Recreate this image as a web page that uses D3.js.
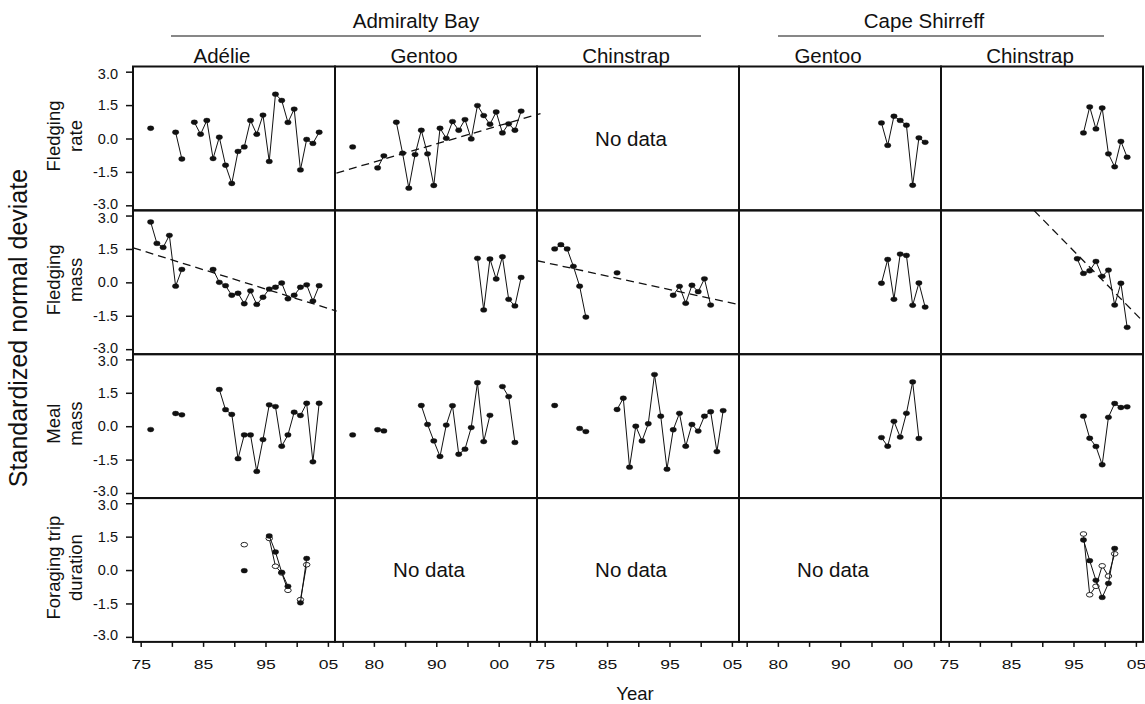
<!DOCTYPE html>
<html>
<head>
<meta charset="utf-8">
<script src="https://cdn.jsdelivr.net/npm/d3@7"></script>
<style>
  body { margin: 0; background: #fff; }
  svg { font-family: "Liberation Sans", Arial, Helvetica, sans-serif; }
</style>
</head>
<body>
<script>
// ---- data (standardized normal deviates by breeding season) ----
var sites = ['Admiralty Bay', 'Cape Shirreff'];
var species = ['Adélie', 'Gentoo', 'Chinstrap', 'Gentoo', 'Chinstrap'];
var variables = [['Fledging', 'rate'], ['Fledging', 'mass'], ['Meal', 'mass'], ['Foraging trip', 'duration']];
var yTicks = [-3, -1.5, 0, 1.5, 3];
var xTicks = [1975, 1980, 1985, 1990, 1995, 2000, 2005];
var xLabelsOdd = [1975, 1985, 1995, 2005];
var xLabelsEven = [1980, 1990, 2000];

// Admiralty Bay, Adélie
var abAdelieRate = [[1976,0.46],[1980,0.28],[1981,-0.92],[1983,0.73],[1984,0.19],[1985,0.81],[1986,-0.90],[1987,0.06],[1988,-1.20],[1989,-2.02],[1990,-0.58],[1991,-0.38],[1992,0.81],[1993,0.19],[1994,1.05],[1995,-1.03],[1996,1.99],[1997,1.71],[1998,0.72],[1999,1.32],[2000,-1.41],[2001,-0.04],[2002,-0.22],[2003,0.28]];
var abAdelieMass = [[1976,2.71],[1977,1.75],[1978,1.57],[1979,2.11],[1980,-0.17],[1981,0.58],[1986,0.58],[1987,0.00],[1988,-0.15],[1989,-0.58],[1990,-0.49],[1991,-0.96],[1992,-0.38],[1993,-0.99],[1994,-0.67],[1995,-0.30],[1996,-0.22],[1997,-0.03],[1998,-0.74],[1999,-0.58],[2000,-0.22],[2001,-0.11],[2002,-0.84],[2003,-0.15]];
var abAdelieMeal = [[1976,-0.15],[1980,0.57],[1981,0.51],[1987,1.65],[1988,0.74],[1989,0.53],[1990,-1.46],[1991,-0.39],[1992,-0.39],[1993,-2.03],[1994,-0.60],[1995,0.96],[1996,0.88],[1997,-0.90],[1998,-0.39],[1999,0.63],[2000,0.48],[2001,1.03],[2002,-1.60],[2003,1.03]];
var abAdelieTrip = [[1991,-0.03],[1995,1.53],[1996,0.81],[1997,-0.10],[1998,-0.73],[2000,-1.47],[2001,0.52]];
var abAdelieTripOpen = [[1991,1.14],[1995,1.42],[1996,0.17],[1997,-0.13],[1998,-0.91],[2000,-1.33],[2001,0.24]];
var abAdelieMassTrend = [[1973.2,1.55],[2005.8,-1.29]];

// Admiralty Bay, Gentoo
var abGentooRate = [[1976,-0.38],[1980,-1.32],[1981,-0.78],[1983,0.73],[1984,-0.66],[1985,-2.23],[1986,-0.72],[1987,0.37],[1988,-0.69],[1989,-2.11],[1990,0.46],[1991,0.01],[1992,0.76],[1993,0.37],[1994,0.85],[1995,-0.02],[1996,1.48],[1997,1.03],[1998,0.64],[1999,1.19],[2000,0.25],[2001,0.66],[2002,0.37],[2003,1.23]];
var abGentooMass = [[1996,1.08],[1997,-1.24],[1998,1.05],[1999,0.15],[2000,1.15],[2001,-0.76],[2002,-1.06],[2003,0.22]];
var abGentooMeal = [[1976,-0.39],[1980,-0.16],[1981,-0.21],[1987,0.93],[1988,0.08],[1989,-0.66],[1990,-1.36],[1991,0.05],[1992,0.92],[1993,-1.26],[1994,-1.03],[1995,-0.06],[1996,1.95],[1997,-0.69],[1998,0.49],[2000,1.78],[2001,1.33],[2002,-0.73]];
var abGentooRateTrend = [[1973.4,-1.55],[2006.1,1.12]];

// Admiralty Bay, Chinstrap
var abChinMass = [[1976,1.50],[1977,1.69],[1978,1.50],[1979,0.72],[1980,-0.17],[1981,-1.56],[1986,0.43],[1995,-0.58],[1996,-0.18],[1997,-0.94],[1998,-0.13],[1999,-0.42],[2000,0.16],[2001,-1.02]];
var abChinMeal = [[1976,0.93],[1980,-0.10],[1981,-0.24],[1986,0.75],[1987,1.26],[1988,-1.84],[1989,0.00],[1990,-0.66],[1991,0.11],[1992,2.32],[1993,0.45],[1994,-1.93],[1995,-0.16],[1996,0.58],[1997,-0.90],[1998,0.08],[1999,-0.22],[2000,0.45],[2001,0.65],[2002,-1.14],[2003,0.70]];
var abChinMassTrend = [[1973.2,0.97],[2005.5,-1.00]];

// Cape Shirreff, Gentoo
var csGentooRate = [[1996,0.70],[1997,-0.31],[1998,1.00],[1999,0.81],[2000,0.60],[2001,-2.10],[2002,0.03],[2003,-0.17]];
var csGentooMass = [[1996,-0.04],[1997,1.03],[1998,-0.76],[1999,1.27],[2000,1.21],[2001,-1.03],[2002,-0.03],[2003,-1.11]];
var csGentooMeal = [[1996,-0.51],[1997,-0.90],[1998,0.22],[1999,-0.49],[2000,0.58],[2001,1.99],[2002,-0.55]];

// Cape Shirreff, Chinstrap
var csChinRate = [[1996,0.25],[1997,1.42],[1998,0.43],[1999,1.37],[2000,-0.69],[2001,-1.27],[2002,-0.13],[2003,-0.84]];
var csChinMass = [[1995,1.06],[1996,0.40],[1997,0.52],[1998,0.94],[1999,0.27],[2000,0.55],[2001,-1.02],[2002,-0.04],[2003,-2.02]];
var csChinMeal = [[1996,0.45],[1997,-0.54],[1998,-0.91],[1999,-1.73],[2000,0.40],[2001,1.02],[2002,0.84],[2003,0.87]];
var csChinTrip = [[1996,1.35],[1997,0.42],[1998,-0.46],[1999,-1.23],[2000,-0.60],[2001,0.97]];
var csChinTripOpen = [[1996,1.62],[1997,-1.11],[1998,-0.73],[1999,0.19],[2000,-0.27],[2001,0.73]];
var csChinMassTrend = [[1988.1,3.22],[2005.6,-1.77]];

// seasons are plotted part way through the calendar year
var SEASON_OFFSET = 0.6;

// panel table [row][col]
var cells = [
  [{filled: abAdelieRate}, {filled: abGentooRate, trend: abGentooRateTrend}, {noData: true}, {filled: csGentooRate}, {filled: csChinRate}],
  [{filled: abAdelieMass, trend: abAdelieMassTrend}, {filled: abGentooMass}, {filled: abChinMass, trend: abChinMassTrend}, {filled: csGentooMass}, {filled: csChinMass, trend: csChinMassTrend}],
  [{filled: abAdelieMeal}, {filled: abGentooMeal}, {filled: abChinMeal}, {filled: csGentooMeal}, {filled: csChinMeal}],
  [{filled: abAdelieTrip, open: abAdelieTripOpen}, {noData: true}, {noData: true}, {noData: true}, {filled: csChinTrip, open: csChinTripOpen}]
];

// ---- layout ----
var chartW = 1145, chartH = 704;
var gridLeft = 133, colW = 202, gridTop = 66.5, rowH = 143.85;
var nCols = 5, nRows = 4;

var svg = d3.select('body').append('svg')
    .attr('width', chartW)
    .attr('height', chartH);

function xScale(c) {
  return d3.scaleLinear().domain([1973.77, 2006.14]).range([gridLeft + c * colW, gridLeft + (c + 1) * colW]);
}
function yScale(r) {
  return d3.scaleLinear().domain([-3.226, 3.233]).range([gridTop + (r + 1) * rowH, gridTop + r * rowH]);
}

// break a series into runs of consecutive seasons
function runs(data) {
  var out = [], cur = [];
  data.forEach(function(d, i) {
    if (i > 0 && d[0] - data[i - 1][0] > 1) { out.push(cur); cur = []; }
    cur.push(d);
  });
  if (cur.length) out.push(cur);
  return out;
}

function drawSeries(g, data, x, y, open) {
  var line = d3.line()
    .x(function(d) { return x(d[0] + SEASON_OFFSET); })
    .y(function(d) { return y(d[1]); });

  g.selectAll(null)
    .data(runs(data).filter(function(r) { return r.length > 1; }))
    .enter().append('path')
    .attr('d', line)
    .attr('fill', 'none')
    .attr('stroke', '#111')
    .attr('stroke-width', 1);

  g.selectAll(null)
    .data(data)
    .enter().append('ellipse')
    .attr('cx', function(d) { return x(d[0] + SEASON_OFFSET); })
    .attr('cy', function(d) { return y(d[1]); })
    .attr('rx', open ? 3.3 : 3.2)
    .attr('ry', open ? 2.3 : 2.4)
    .attr('fill', open ? '#fff' : '#111')
    .attr('stroke', '#111')
    .attr('stroke-width', open ? 0.9 : 0.4);
}

for (var r = 0; r < nRows; r++) {
  for (var c = 0; c < nCols; c++) {
    var cell = cells[r][c];
    var x = xScale(c), y = yScale(r);
    var g = svg.append('g').attr('class', 'panel');

    if (cell.noData) {
      g.append('text')
        .attr('x', (x.range()[0] + x.range()[1]) / 2 - 7)
        .attr('y', y(0) + 7)
        .attr('text-anchor', 'middle')
        .attr('font-size', 20.5)
        .attr('fill', '#111')
        .text('No data');
      continue;
    }

    if (cell.trend) {
      g.append('path')
        .attr('d', d3.line()
          .x(function(d) { return x(d[0] + SEASON_OFFSET); })
          .y(function(d) { return y(d[1]); })(cell.trend))
        .attr('fill', 'none')
        .attr('stroke', '#111')
        .attr('stroke-width', 1.3)
        .attr('stroke-dasharray', '8,5');
    }
    if (cell.open) drawSeries(g, cell.open, x, y, true);
    drawSeries(g, cell.filled, x, y, false);
  }
}

// panel frames
for (var r2 = 0; r2 < nRows; r2++) {
  for (var c2 = 0; c2 < nCols; c2++) {
    svg.append('rect')
      .attr('x', gridLeft + c2 * colW)
      .attr('y', gridTop + r2 * rowH)
      .attr('width', colW)
      .attr('height', rowH)
      .attr('fill', 'none')
      .attr('stroke', '#111')
      .attr('stroke-width', 2);
  }
}

// y axes, left column only
for (var r3 = 0; r3 < nRows; r3++) {
  var ya = svg.append('g')
    .attr('transform', 'translate(' + gridLeft + ',0)')
    .call(d3.axisLeft(yScale(r3))
      .tickValues(yTicks)
      .tickSize(7)
      .tickPadding(8)
      .tickFormat(function(d) { return d.toFixed(1); }));
  ya.select('.domain').remove();
  ya.selectAll('.tick line').attr('stroke', '#111').attr('stroke-width', 1.5);
  ya.selectAll('.tick text')
    .attr('font-size', 14.5)
    .attr('font-family', '"Liberation Sans", Arial, sans-serif')
    .attr('fill', '#111')
    // nudge the end labels apart where neighbouring rows meet
    .attr('dy', function(d) { return d === 3 ? '0.45em' : (d === -3 ? '0.2em' : '0.32em'); });

  // row label
  var yc = yScale(r3)(0) - 2.5;
  var lab = svg.append('g');
  lab.append('text')
    .attr('transform', 'translate(60,' + yc + ') rotate(-90)')
    .attr('text-anchor', 'middle')
    .attr('font-size', 18.5)
    .attr('fill', '#111')
    .text(variables[r3][0]);
  lab.append('text')
    .attr('transform', 'translate(81.5,' + yc + ') rotate(-90)')
    .attr('text-anchor', 'middle')
    .attr('font-size', 18.5)
    .attr('fill', '#111')
    .text(variables[r3][1]);
}

// x axes, bottom row
for (var c3 = 0; c3 < nCols; c3++) {
  var labelled = (c3 % 2 === 0) ? xLabelsOdd : xLabelsEven;
  var xa = svg.append('g')
    .attr('transform', 'translate(0,' + (gridTop + nRows * rowH) + ')')
    .call(d3.axisBottom(xScale(c3))
      .tickValues(xTicks)
      .tickSize(5)
      .tickPadding(13)
      .tickFormat(function(d) { return labelled.indexOf(d) >= 0 ? String(d).slice(2) : ''; }));
  xa.select('.domain').remove();
  xa.selectAll('.tick line').attr('stroke', '#111').attr('stroke-width', 1.5);
  xa.selectAll('.tick text')
    .attr('font-size', 13.5)
    .attr('font-family', '"Liberation Sans", Arial, sans-serif')
    .attr('fill', '#111')
    .attr('transform', 'scale(1.3,1)');
}

// column headers
species.forEach(function(s, i) {
  var xr = xScale(i).range();
  svg.append('text')
    .attr('x', (xr[0] + xr[1]) / 2 - 12)
    .attr('y', 62.5)
    .attr('text-anchor', 'middle')
    .attr('font-size', 20.5)
    .attr('fill', '#111')
    .text(s);
});

// site headers with rules
var siteSpans = [[0, 2], [3, 4]];
sites.forEach(function(s, i) {
  var a = xScale(siteSpans[i][0]).range()[0], b = xScale(siteSpans[i][1]).range()[1];
  var mid = (a + b) / 2;
  var half = i === 0 ? 265 : 163;
  svg.append('line')
    .attr('x1', mid - half).attr('x2', mid + half)
    .attr('y1', 36).attr('y2', 36)
    .attr('stroke', '#111').attr('stroke-width', 1.2);
  svg.append('text')
    .attr('x', mid - (i === 0 ? 20 : 17))
    .attr('y', 28)
    .attr('text-anchor', 'middle')
    .attr('font-size', 20.5)
    .attr('fill', '#111')
    .text(s);
});

// axis titles
svg.append('text')
  .attr('transform', 'translate(26.5,328) rotate(-90)')
  .attr('text-anchor', 'middle')
  .attr('font-size', 25)
  .attr('fill', '#111')
  .text('Standardized normal deviate');

svg.append('text')
  .attr('x', 635)
  .attr('y', 700)
  .attr('text-anchor', 'middle')
  .attr('font-size', 18.5)
  .attr('fill', '#111')
  .text('Year');
</script>
</body>
</html>
